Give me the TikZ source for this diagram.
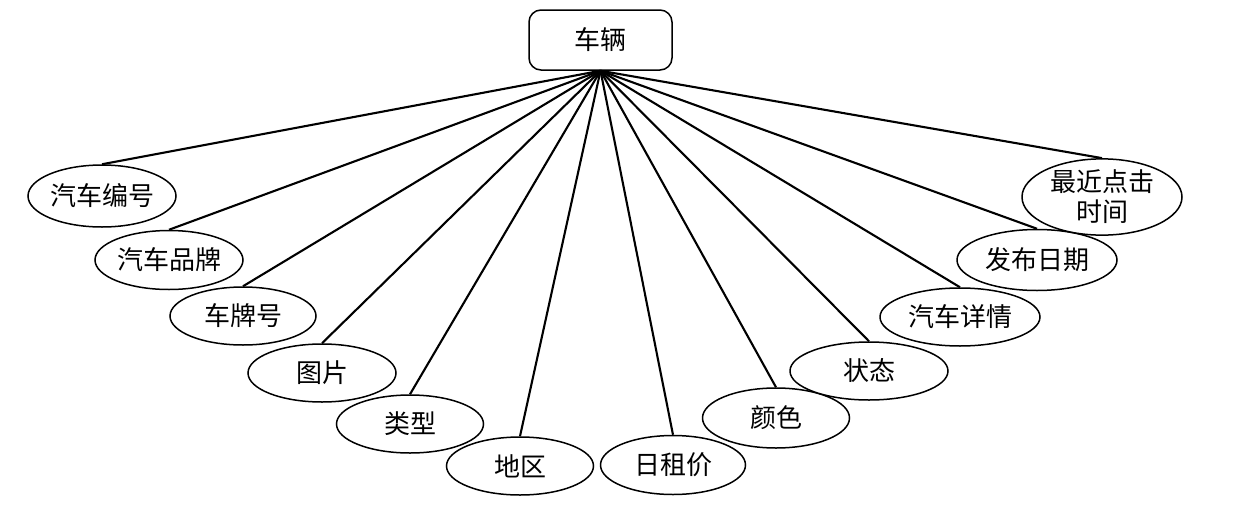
\documentclass[tikz,border=0pt]{standalone}
\usepackage{fontspec}
\setmainfont{Noto Sans CJK SC}
\usetikzlibrary{shapes.geometric}
\tikzset{
  attr/.style={ellipse, draw=black, fill=white, line width=1.5pt, inner sep=0pt,
    minimum width=148pt, minimum height=59pt, align=center,
    font=\fontsize{26}{29}\selectfont},
  entity/.style={rectangle, rounded corners=12pt, draw=black, fill=white, line width=1.5pt,
    minimum width=143pt, minimum height=60pt, font=\fontsize{26}{29}\selectfont},
  link/.style={line width=2.1pt}
}
\begin{document}
\begin{tikzpicture}[x=1pt,y=-1pt]
\useasboundingbox (0,0) rectangle (1251,525);
\node[entity] (top) at (600.5,40) {车辆};
\node[attr, minimum height=62pt] (e1) at (102,196) {汽车编号};
\node[attr] (e2) at (169,260) {汽车品牌};
\node[attr, minimum width=146pt, minimum height=58pt] (e3) at (243,316) {车牌号};
\node[attr, minimum height=58pt] (e4) at (322,373) {图片};
\node[attr, minimum width=147pt, minimum height=58pt] (e5) at (410,424) {类型};
\node[attr, minimum width=147pt, minimum height=58pt] (e6) at (520,466) {地区};
\node[attr, minimum width=145pt] (e7) at (673,465) {日租价};
\node[attr, minimum width=147pt, minimum height=60pt] (e8) at (776,418) {颜色};
\node[attr, minimum width=158pt, minimum height=58pt] (e9) at (869,371) {状态};
\node[attr, minimum width=160pt, minimum height=58pt] (e10) at (960,317) {汽车详情};
\node[attr, minimum width=160pt, minimum height=61pt] (e11) at (1037,260) {发布日期};
\node[attr, minimum width=160pt, minimum height=61pt, font=\fontsize{26}{30}\selectfont] (e12) at (1102,197) {最近点击\\时间};
\foreach \e in {e1,e2,e3,e4,e5,e6,e7,e8,e9,e10,e11,e12}
  \draw[link] (top.south) -- (\e.north);
\end{tikzpicture}
\end{document}
